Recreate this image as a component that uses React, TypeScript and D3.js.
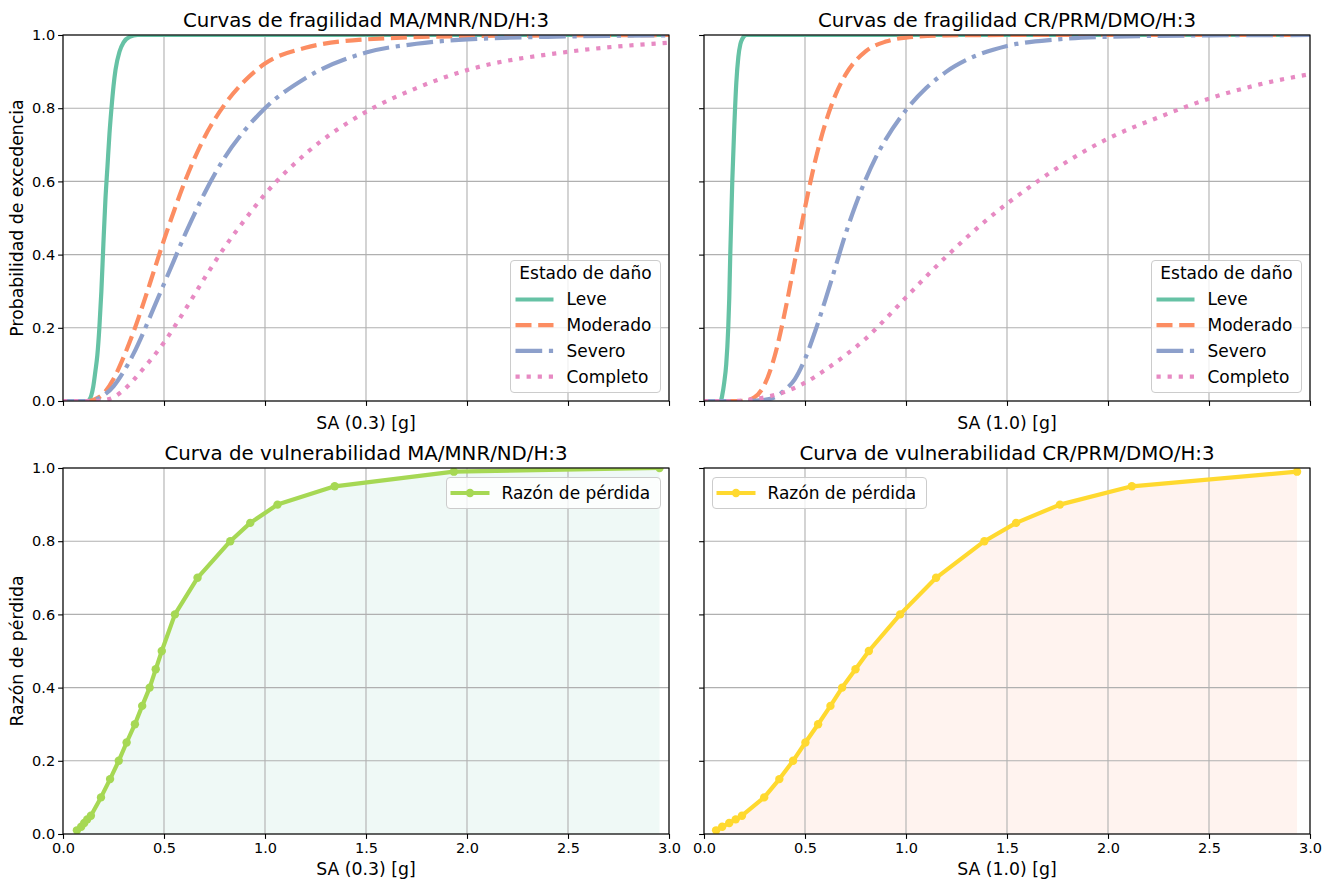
import React, { useEffect, useRef } from 'react';
import * as d3 from 'd3';

// Curvas de fragilidad MA/MNR/ND/H:3 -> [SA (0.3) g, probabilidad]
const leveMA = [[0, 0], [0.12, 0], [0.13, 0.003], [0.14, 0.015], [0.15, 0.04], [0.16, 0.08], [0.17, 0.125], [0.18, 0.2], [0.19, 0.3], [0.2, 0.43], [0.21, 0.55], [0.22, 0.64], [0.23, 0.73], [0.24, 0.8], [0.25, 0.86], [0.26, 0.905], [0.28, 0.955], [0.3, 0.98], [0.33, 0.995], [0.37, 1], [3, 1]];
const moderadoMA = [[0, 0], [0.12, 0], [0.15, 0.003], [0.2, 0.02], [0.25, 0.06], [0.3, 0.12], [0.35, 0.19], [0.4, 0.27], [0.45, 0.355], [0.5, 0.44], [0.55, 0.52], [0.6, 0.595], [0.7, 0.72], [0.8, 0.81], [0.9, 0.875], [1.0, 0.922], [1.2, 0.965], [1.5, 0.988], [2.0, 0.997], [2.5, 0.999], [3.0, 1]];
const severoMA = [[0, 0], [0.12, 0], [0.15, 0.002], [0.2, 0.015], [0.25, 0.04], [0.3, 0.08], [0.35, 0.13], [0.4, 0.19], [0.45, 0.255], [0.5, 0.32], [0.55, 0.385], [0.6, 0.45], [0.65, 0.51], [0.7, 0.567], [0.8, 0.665], [0.9, 0.74], [1.0, 0.8], [1.2, 0.882], [1.5, 0.952], [1.75, 0.976], [2.0, 0.988], [2.5, 0.996], [3.0, 0.999]];
const completoMA = [[0, 0], [0.15, 0], [0.2, 0.002], [0.25, 0.01], [0.3, 0.03], [0.4, 0.09], [0.5, 0.16], [0.6, 0.245], [0.7, 0.335], [0.8, 0.42], [0.9, 0.495], [1.0, 0.565], [1.2, 0.675], [1.5, 0.79], [1.75, 0.855], [2.0, 0.904], [2.5, 0.954], [3.0, 0.979]];

// Curvas de fragilidad CR/PRM/DMO/H:3 -> [SA (1.0) g, probabilidad]
const leveCR = [[0, 0], [0.08, 0], [0.085, 0.003], [0.09, 0.015], [0.1, 0.05], [0.11, 0.1], [0.12, 0.2], [0.125, 0.28], [0.13, 0.4], [0.135, 0.5], [0.14, 0.6], [0.15, 0.75], [0.16, 0.87], [0.17, 0.94], [0.18, 0.975], [0.19, 0.99], [0.21, 1], [3, 1]];
const moderadoCR = [[0, 0], [0.18, 0], [0.2, 0.001], [0.25, 0.01], [0.3, 0.045], [0.35, 0.123], [0.4, 0.242], [0.45, 0.384], [0.5, 0.528], [0.55, 0.655], [0.6, 0.757], [0.65, 0.835], [0.7, 0.891], [0.8, 0.955], [0.9, 0.982], [1.0, 0.993], [1.2, 0.999], [1.5, 1], [3.0, 1]];
const severoCR = [[0, 0], [0.22, 0], [0.3, 0.003], [0.35, 0.01], [0.4, 0.03], [0.45, 0.06], [0.5, 0.115], [0.55, 0.19], [0.6, 0.275], [0.65, 0.365], [0.7, 0.455], [0.75, 0.535], [0.8, 0.605], [0.85, 0.665], [0.9, 0.715], [1.0, 0.795], [1.1, 0.855], [1.2, 0.9], [1.3, 0.932], [1.5, 0.97], [1.75, 0.988], [2.0, 0.995], [2.5, 0.999], [3.0, 1]];
const completoCR = [[0, 0], [0.15, 0], [0.2, 0.002], [0.3, 0.01], [0.4, 0.025], [0.5, 0.05], [0.6, 0.085], [0.7, 0.125], [0.8, 0.17], [0.9, 0.225], [1.0, 0.283], [1.2, 0.395], [1.4, 0.495], [1.6, 0.58], [1.8, 0.655], [2.0, 0.717], [2.25, 0.775], [2.5, 0.826], [2.75, 0.865], [3.0, 0.893]];

// Curvas de vulnerabilidad
const saVulnMA = [0.069, 0.09, 0.105, 0.12, 0.138, 0.188, 0.233, 0.276, 0.315, 0.356, 0.392, 0.429, 0.459, 0.489, 0.554, 0.666, 0.828, 0.927, 1.062, 1.345, 1.935, 2.953];
const lossVulnMA = [0.01, 0.02, 0.03, 0.04, 0.05, 0.1, 0.15, 0.2, 0.25, 0.3, 0.35, 0.4, 0.45, 0.5, 0.6, 0.7, 0.8, 0.85, 0.9, 0.95, 0.99, 1.0];
const saVulnCR = [0.06, 0.09, 0.125, 0.157, 0.188, 0.298, 0.373, 0.441, 0.502, 0.565, 0.626, 0.684, 0.75, 0.816, 0.971, 1.149, 1.388, 1.545, 1.762, 2.118, 2.936];
const lossVulnCR = [0.01, 0.02, 0.03, 0.04, 0.05, 0.1, 0.15, 0.2, 0.25, 0.3, 0.35, 0.4, 0.45, 0.5, 0.6, 0.7, 0.8, 0.85, 0.9, 0.95, 0.99];

const damageStates = ['Leve', 'Moderado', 'Severo', 'Completo'];
const xTicks = [0, 0.5, 1.0, 1.5, 2.0, 2.5, 3.0];
const yTicks = [0, 0.2, 0.4, 0.6, 0.8, 1.0];

const FONT = 'DejaVu Sans, Verdana, sans-serif';
const stateStyles = [
  { color: '#66c2a5', dash: null },
  { color: '#fc8d62', dash: '16,6.7' },
  { color: '#8da0cb', dash: '26.7,6.7,4.2,6.7' },
  { color: '#e78ac3', dash: '4.2,6.9' },
];

const W = 1331;
const H = 881;
const axW = 606;
const axH = 366;

const App = () => {
  const ref = useRef(null);

  useEffect(() => {
    const svg = d3.select(ref.current);
    svg.selectAll('*').remove();
    svg.append('rect').attr('width', W).attr('height', H).attr('fill', '#fff');

    const panels = [
      { x0: 63, y0: 35, title: 'Curvas de fragilidad MA/MNR/ND/H:3', xLabel: 'SA (0.3) [g]', yLabel: 'Probabilidad de excedencia', curves: [leveMA, moderadoMA, severoMA, completoMA], xLabels: false, yLabels: true },
      { x0: 704, y0: 35, title: 'Curvas de fragilidad CR/PRM/DMO/H:3', xLabel: 'SA (1.0) [g]', yLabel: null, curves: [leveCR, moderadoCR, severoCR, completoCR], xLabels: false, yLabels: false },
      { x0: 63, y0: 468, title: 'Curva de vulnerabilidad MA/MNR/ND/H:3', xLabel: 'SA (0.3) [g]', yLabel: 'Razón de pérdida', sa: saVulnMA, loss: lossVulnMA, color: '#a6d854', fill: '#66c2a5', legendRight: true, xLabels: true, yLabels: true },
      { x0: 704, y0: 468, title: 'Curva de vulnerabilidad CR/PRM/DMO/H:3', xLabel: 'SA (1.0) [g]', yLabel: null, sa: saVulnCR, loss: lossVulnCR, color: '#ffd92f', fill: '#fc8d62', legendRight: false, xLabels: true, yLabels: false },
    ];

    panels.forEach((p, i) => {
      const g = svg.append('g').attr('transform', `translate(${p.x0},${p.y0})`);
      const x = d3.scaleLinear().domain([0, 3]).range([0, axW]);
      const y = d3.scaleLinear().domain([0, 1]).range([axH, 0]);

      const clipId = `clip-${i}`;
      g.append('clipPath').attr('id', clipId).append('rect').attr('width', axW).attr('height', axH);

      // fill under the vulnerability curve (drawn below the grid)
      if (p.sa) {
        const pts = p.sa.map((s, k) => [s, p.loss[k]]);
        g.append('path')
          .datum(pts)
          .attr('clip-path', `url(#${clipId})`)
          .attr('fill', p.fill)
          .attr('fill-opacity', 0.1)
          .attr('d', d3.area().x((d) => x(d[0])).y0(y(0)).y1((d) => y(d[1])));
      }

      // grid
      g.append('g')
        .selectAll('line')
        .data(xTicks)
        .join('line')
        .attr('x1', (d) => x(d)).attr('x2', (d) => x(d))
        .attr('y1', 0).attr('y2', axH)
        .attr('stroke', '#b0b0b0').attr('stroke-width', 1.1);
      g.append('g')
        .selectAll('line')
        .data(yTicks)
        .join('line')
        .attr('y1', (d) => y(d)).attr('y2', (d) => y(d))
        .attr('x1', 0).attr('x2', axW)
        .attr('stroke', '#b0b0b0').attr('stroke-width', 1.1);

      const content = g.append('g').attr('clip-path', `url(#${clipId})`);

      if (p.curves) {
        const line = d3.line().x((d) => x(d[0])).y((d) => y(d[1])).curve(d3.curveMonotoneX);
        p.curves.forEach((c, k) => {
          const st = stateStyles[k];
          content.append('path')
            .datum(c)
            .attr('fill', 'none')
            .attr('stroke', st.color)
            .attr('stroke-width', 4.2)
            .attr('stroke-dasharray', st.dash)
            .attr('d', line);
        });
      } else {
        const pts = p.sa.map((s, k) => [s, p.loss[k]]);
        content.append('path')
          .datum(pts)
          .attr('fill', 'none')
          .attr('stroke', p.color)
          .attr('stroke-width', 4.2)
          .attr('stroke-linejoin', 'round')
          .attr('d', d3.line().x((d) => x(d[0])).y((d) => y(d[1])));
        content.selectAll('circle')
          .data(pts)
          .join('circle')
          .attr('cx', (d) => x(d[0]))
          .attr('cy', (d) => y(d[1]))
          .attr('r', 4.2)
          .attr('fill', p.color);
      }

      // spines
      g.append('rect').attr('width', axW).attr('height', axH)
        .attr('fill', 'none').attr('stroke', '#000').attr('stroke-width', 1.1);

      // ticks
      const xAxis = d3.axisBottom(x).tickValues(xTicks).tickSize(4.9).tickPadding(4)
        .tickFormat(p.xLabels ? d3.format('.1f') : () => '');
      const yAxis = d3.axisLeft(y).tickValues(yTicks).tickSize(4.9).tickPadding(3)
        .tickFormat(p.yLabels ? d3.format('.1f') : () => '');
      [g.append('g').attr('transform', `translate(0,${axH})`).call(xAxis),
        g.append('g').call(yAxis)].forEach((ax) => {
        ax.select('.domain').remove();
        ax.selectAll('line').attr('stroke', '#000').attr('stroke-width', 1.1);
        ax.selectAll('text').attr('fill', '#000').style('font-family', FONT).style('font-size', '14.5px');
      });

      // title and labels
      g.append('text').attr('x', axW / 2).attr('y', -8)
        .attr('text-anchor', 'middle').style('font-family', FONT).style('font-size', '19.8px')
        .text(p.title);
      g.append('text').attr('x', axW / 2).attr('y', p.xLabels ? axH + 41 : axH + 28)
        .attr('text-anchor', 'middle').style('font-family', FONT).style('font-size', '17.3px')
        .text(p.xLabel);
      if (p.yLabel) {
        g.append('text')
          .attr('transform', `translate(${-40},${axH / 2}) rotate(-90)`)
          .attr('text-anchor', 'middle').style('font-family', FONT).style('font-size', '17.3px')
          .text(p.yLabel);
      }

      // legends
      const lg = g.append('g');
      if (p.curves) {
        const bw = 150;
        const bh = 132;
        const bx = axW - 8.5 - bw;
        const by = axH - 8.5 - bh;
        lg.attr('transform', `translate(${bx},${by})`);
        lg.append('rect').attr('width', bw).attr('height', bh).attr('rx', 3.5)
          .attr('fill', '#fff').attr('fill-opacity', 0.8).attr('stroke', '#cccccc').attr('stroke-width', 1);
        lg.append('text').attr('x', bw / 2).attr('y', 13).attr('dy', '0.35em')
          .attr('text-anchor', 'middle').style('font-family', FONT).style('font-size', '17px')
          .text('Estado de daño');
        damageStates.forEach((s, k) => {
          const yy = 39 + k * 25.7;
          const st = stateStyles[k];
          lg.append('line').attr('x1', 5).attr('x2', 43).attr('y1', yy).attr('y2', yy)
            .attr('stroke', st.color).attr('stroke-width', 4.2).attr('stroke-dasharray', st.dash);
          lg.append('text').attr('x', 56).attr('y', yy).attr('dy', '0.35em')
            .style('font-family', FONT).style('font-size', '17px').text(s);
        });
      } else {
        const bw = 214;
        const bh = 31;
        const bx = p.legendRight ? axW - 8.5 - bw : 8.5;
        const by = 9.5;
        lg.attr('transform', `translate(${bx},${by})`);
        lg.append('rect').attr('width', bw).attr('height', bh).attr('rx', 3.5)
          .attr('fill', '#fff').attr('fill-opacity', 0.8).attr('stroke', '#cccccc').attr('stroke-width', 1);
        lg.append('line').attr('x1', 4).attr('x2', 43).attr('y1', bh / 2).attr('y2', bh / 2)
          .attr('stroke', p.color).attr('stroke-width', 4.2);
        lg.append('circle').attr('cx', 23.5).attr('cy', bh / 2).attr('r', 4.2).attr('fill', p.color);
        lg.append('text').attr('x', 55).attr('y', bh / 2).attr('dy', '0.35em')
          .style('font-family', FONT).style('font-size', '17px').text('Razón de pérdida');
      }
    });
  }, []);

  return (
    <svg
      ref={ref}
      width={W}
      height={H}
      style={{ position: 'absolute', left: 0, top: 0, display: 'block' }}
    />
  );
};

export default App;
